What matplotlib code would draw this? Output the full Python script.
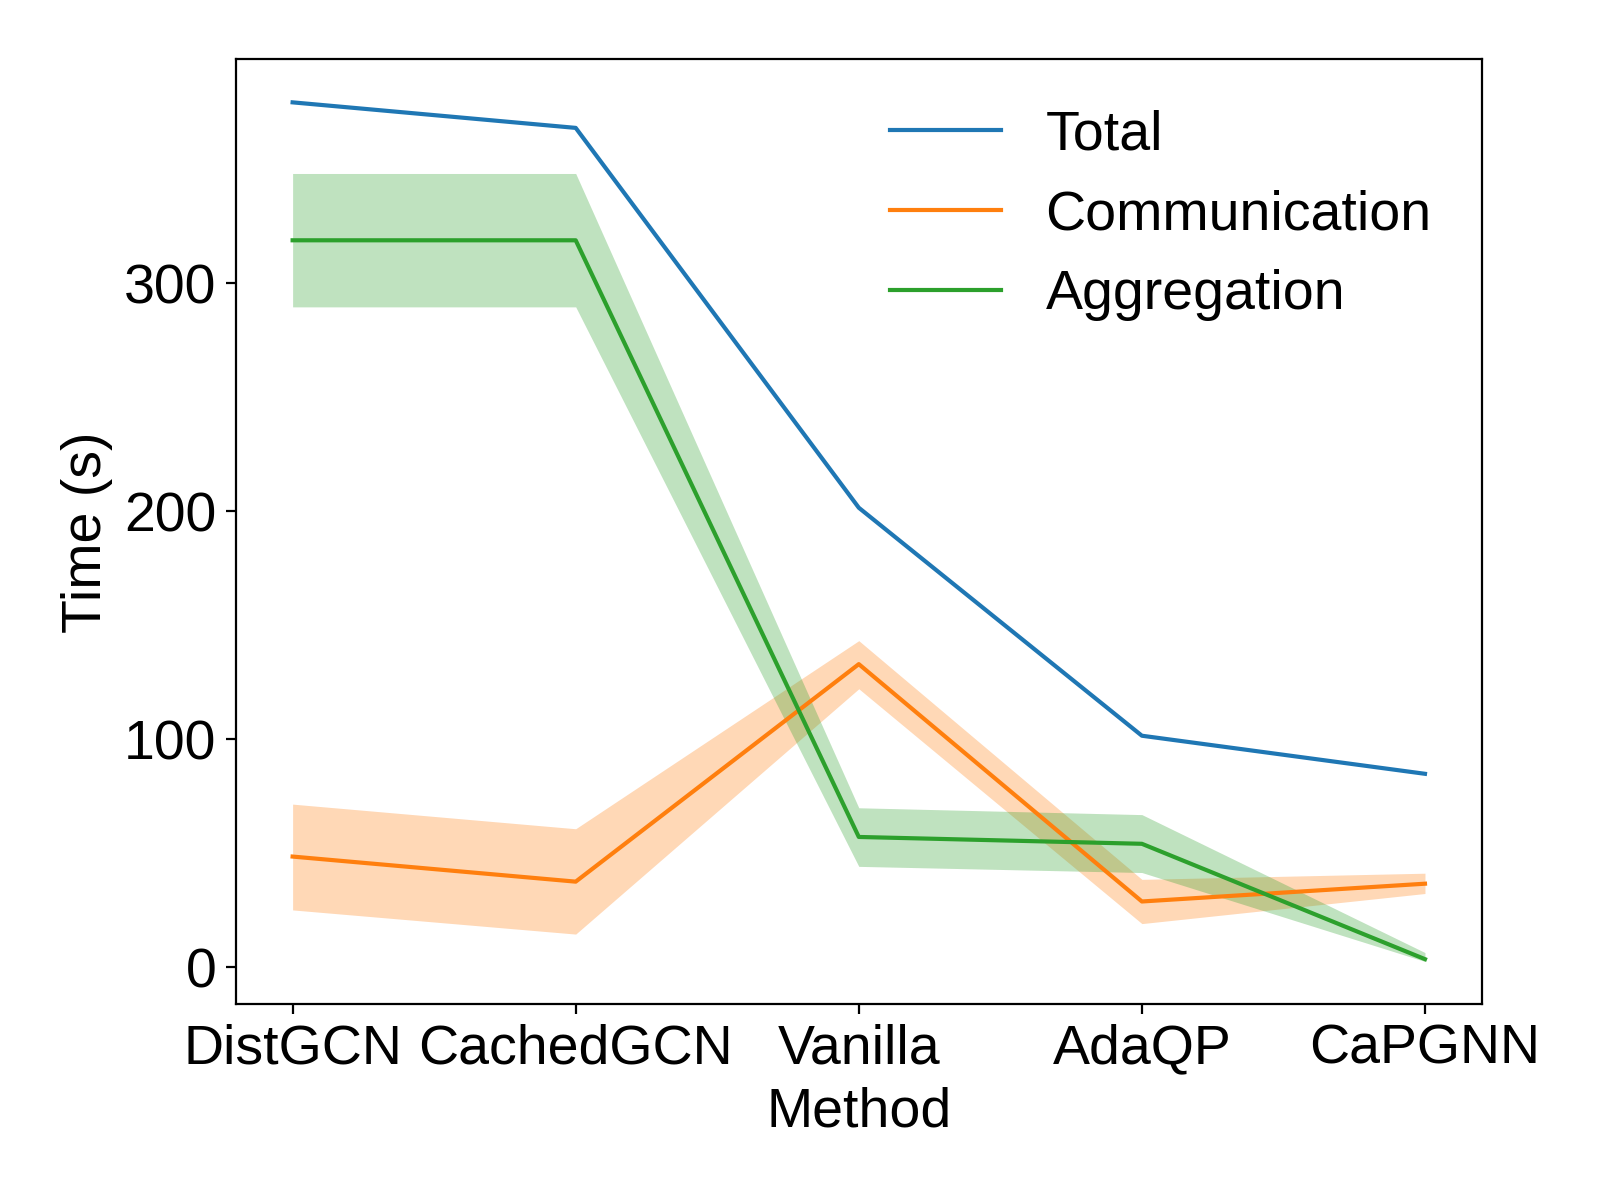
import numpy as np
import matplotlib
matplotlib.use('Agg')
import matplotlib.pyplot as plt

plt.rcParams['font.family'] = ['Liberation Sans', 'DejaVu Sans']

methods = ['DistGCN', 'CachedGCN', 'Vanilla', 'AdaQP', 'CaPGNN']

# mean values (s)
total = [379.4, 368.2, 201.6, 101.6, 84.9]
comm = [48.6, 37.6, 133.0, 28.9, 36.7]
aggr = [318.9, 318.9, 57.2, 54.2, 3.6]

# confidence bands (lower, upper)
comm_lo = [25.2, 14.6, 122.2, 19.2, 32.4]
comm_hi = [71.6, 60.8, 143.3, 38.6, 41.3]
aggr_lo = [289.7, 289.7, 44.3, 41.6, 2.6]
aggr_hi = [348.2, 348.2, 70.0, 67.0, 6.5]

x = np.arange(len(methods))

fig, ax = plt.subplots(figsize=(8, 6), dpi=200)
fig.subplots_adjust(left=0.1475, right=0.926, top=0.9505, bottom=0.163)

ax.plot(x, total, color='#1f77b4', label='Total')
ax.plot(x, comm, color='#ff7f0e', label='Communication')
ax.fill_between(x, comm_lo, comm_hi, color='#ff7f0e', alpha=0.3, linewidth=0)
ax.plot(x, aggr, color='#2ca02c', label='Aggregation')
ax.fill_between(x, aggr_lo, aggr_hi, color='#2ca02c', alpha=0.3, linewidth=0)

ax.set_xticks(x)
ax.set_xticklabels(methods)
ax.set_yticks([0, 100, 200, 300])
ax.tick_params(labelsize=20)
ax.set_xlabel('Method', size=20)
ax.set_ylabel('Time (s)', size=20)

ax.legend(loc='upper right', frameon=False, fontsize=20)

fig.savefig('out.png')
